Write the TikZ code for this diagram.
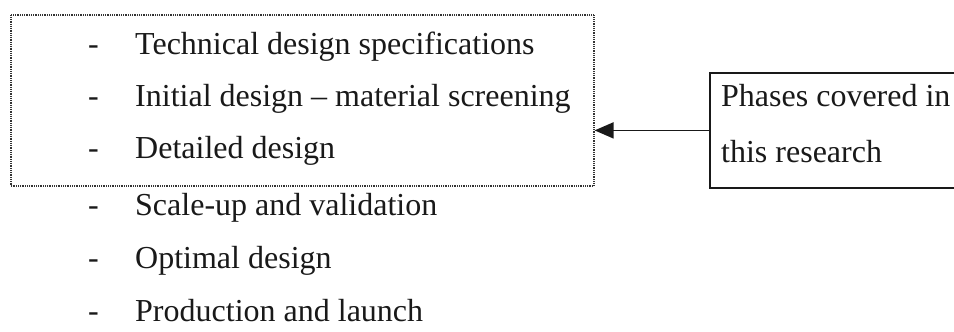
\documentclass[tikz,border=0pt]{standalone}
\usepackage{fontspec}
\setmainfont{Liberation Serif}
\usetikzlibrary{arrows.meta}
\begin{document}
\begin{tikzpicture}[x=1pt,y=-1pt,
  txt/.style={anchor=base west, inner sep=0pt, font=\fontsize{32}{38}\selectfont, text=black!90},
  dotbox/.style={draw=black!80, line width=1.6pt, dash pattern=on 1pt off 0.8pt, inner sep=0pt},
  solidbox/.style={draw=black!90, line width=1.8pt, inner sep=0pt},
  arr/.style={draw=black!90, line width=1.8pt, -{Triangle[length=19pt,width=16pt]}}]
\useasboundingbox (0,0) rectangle (954,332);
\clip (0,0) rectangle (954,332);
\fill[white] (0,0) rectangle (954,332);
\node[dotbox, anchor=north west, minimum width=583pt, minimum height=171pt] (dbox) at (10,14) {};
\node[solidbox, anchor=north west, minimum width=290pt, minimum height=115pt] (pbox) at (709,72) {};
\foreach \i/\yy/\t in {1/54/Technical design specifications,
                       2/106/Initial design -- material screening,
                       3/158/Detailed design,
                       4/215/Scale-up and validation,
                       5/268/Optimal design,
                       6/321/Production and launch}{
  \node[txt] (d\i) at (88,\yy) {-};
  \node[txt] (t\i) at (135,\yy) {\t};
}
\node[txt] (p1) at (721,106) {Phases covered in};
\node[txt] (p2) at (721,162) {this research};
\draw[arr] (pbox.west) -- (pbox.west -| dbox.east);
\end{tikzpicture}
\end{document}
